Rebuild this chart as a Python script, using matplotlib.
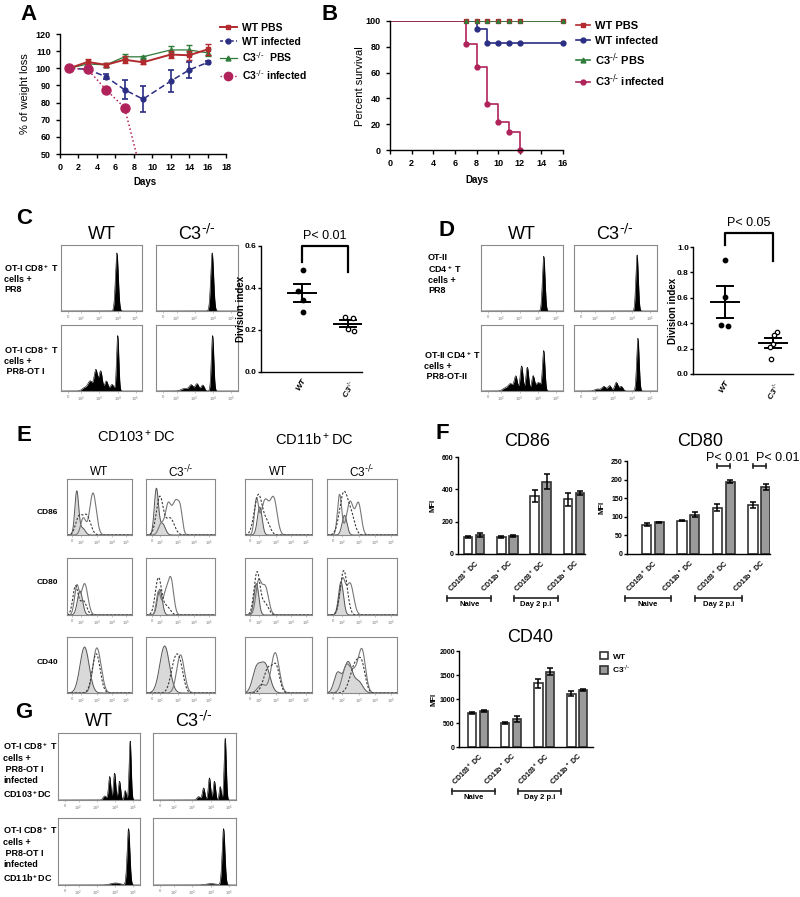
import numpy as np
import matplotlib
matplotlib.use("Agg")
import matplotlib.pyplot as plt
from matplotlib.patches import Patch
from matplotlib.lines import Line2D

plt.rcParams['font.family'] = ['Liberation Sans', 'DejaVu Sans']
plt.rcParams['mathtext.default'] = 'regular'

KO = r'C3$^{\text{-/-}}$'

# ---------------- data ----------------
# A: body weight
days_a = [1, 3, 5, 7, 9, 12, 14, 16]
wt_pbs_w = [100, 103.7, 102, 105, 103.5, 108, 107.6, 111]
wt_pbs_e = [0, 1.5, 1, 2, 1.2, 2.2, 2.5, 3]
ko_pbs_w = [100, 102.5, 102, 106.7, 106.7, 110.7, 110.7, 109]
ko_pbs_e = [0, 1, 1, 1.5, 0.5, 2.5, 3, 2]
wt_inf_w = [100, 99.4, 95, 87.5, 82, 92.5, 99, 103.4]
wt_inf_e = [0, 1, 1.5, 5.4, 7.6, 6.3, 4.5, 1]
ko_inf_days = [1, 3, 5, 7, 9]
ko_inf_w = [100, 99.4, 87.5, 77, 35]

# B: survival
surv_days = [0, 7, 8, 9, 10, 11, 12, 16]
wt_pbs_s = [100, 100, 100, 100, 100, 100, 100, 100]
ko_pbs_s = [100, 100, 100, 100, 100, 100, 100, 100]
wt_inf_s = [100, 100, 94, 83, 83, 83, 83, 83]
ko_surv_days = [0, 7, 8, 9, 10, 11, 12]
ko_inf_s = [100, 82, 64, 36, 22, 14, 0]

# C / D: division index
div_c_wt = [0.485, 0.385, 0.345, 0.285]
div_c_ko = [0.26, 0.255, 0.205, 0.195]
div_d_wt = [0.90, 0.61, 0.385, 0.375]
div_d_ko = [0.33, 0.31, 0.24, 0.21, 0.12]
jit_c_wt = [0.02, -0.08, 0.02, 0.02]
jit_c_ko = [-0.06, 0.1, 0.0, 0.12]
jit_d_wt = [0.0, 0.0, -0.08, 0.06]
jit_d_ko = [0.08, 0.02, 0.0, -0.06, -0.05]

# F: MFI
f_groups = ['CD103$^+$ DC', 'CD11b$^+$ DC', 'CD103$^+$ DC', 'CD11b$^+$ DC']
cd86_wt = [105, 105, 360, 338]
cd86_wt_e = [4, 5, 38, 38]
cd86_ko = [117, 112, 448, 380]
cd86_ko_e = [10, 4, 45, 12]
cd80_wt = [78, 90, 125, 132]
cd80_wt_e = [4, 2, 10, 8]
cd80_ko = [85, 106, 194, 179]
cd80_ko_e = [2, 7, 4, 8]
cd40_wt = [705, 495, 1325, 1110]
cd40_wt_e = [25, 20, 95, 50]
cd40_ko = [745, 585, 1570, 1185]
cd40_ko_e = [20, 65, 70, 20]

# histogram peaks (position, height, width)
c_wt_pr8 = [(0.69, 0.88, 0.018)]
c_ko_pr8 = [(0.685, 0.88, 0.018)]
c_wt_ot1 = [(0.70, 0.84, 0.014), (0.63, 0.10, 0.022), (0.56, 0.15, 0.02),
            (0.49, 0.30, 0.02), (0.43, 0.32, 0.021), (0.36, 0.15, 0.028), (0.29, 0.05, 0.03)]
c_ko_ot1 = [(0.69, 0.84, 0.015), (0.57, 0.09, 0.02), (0.50, 0.11, 0.022),
            (0.43, 0.09, 0.024), (0.35, 0.04, 0.04)]
d_wt_pr8 = [(0.765, 0.83, 0.016)]
d_ko_pr8 = [(0.76, 0.85, 0.015)]
d_wt_ot2 = [(0.765, 0.60, 0.015), (0.70, 0.13, 0.03), (0.635, 0.22, 0.017),
            (0.565, 0.36, 0.017), (0.495, 0.38, 0.017), (0.425, 0.22, 0.019),
            (0.36, 0.11, 0.03), (0.29, 0.04, 0.03)]
d_ko_ot2 = [(0.77, 0.80, 0.015), (0.57, 0.07, 0.02), (0.51, 0.13, 0.02),
            (0.43, 0.08, 0.02), (0.36, 0.07, 0.025), (0.28, 0.03, 0.03)]
g_wt_103 = [(0.88, 0.88, 0.013), (0.82, 0.14, 0.012), (0.75, 0.28, 0.014),
            (0.69, 0.40, 0.014), (0.63, 0.35, 0.014), (0.57, 0.06, 0.02)]
g_ko_103 = [(0.87, 0.92, 0.013), (0.81, 0.20, 0.012), (0.74, 0.28, 0.014),
            (0.68, 0.33, 0.014), (0.61, 0.18, 0.015), (0.55, 0.05, 0.02)]
g_wt_11b = [(0.86, 0.84, 0.017), (0.70, 0.03, 0.06)]
g_ko_11b = [(0.85, 0.84, 0.017), (0.70, 0.02, 0.06)]

# E: (shaded, dashed, solid) per marker row, per column
e_cd86 = [
    ([(0.15, 0.78, 0.03), (0.24, 0.12, 0.04)], [(0.18, 0.30, 0.05), (0.30, 0.35, 0.06)],
     [(0.25, 0.30, 0.04), (0.40, 0.75, 0.05)]),
    ([(0.15, 0.82, 0.03), (0.24, 0.20, 0.04)], [(0.20, 0.68, 0.05), (0.35, 0.30, 0.06)],
     [(0.22, 0.20, 0.04), (0.32, 0.52, 0.04), (0.43, 0.60, 0.05), (0.50, 0.30, 0.03)]),
    ([(0.22, 0.50, 0.035)], [(0.20, 0.72, 0.06), (0.33, 0.20, 0.05)],
     [(0.17, 0.60, 0.03), (0.30, 0.62, 0.06), (0.43, 0.62, 0.05)]),
    ([(0.25, 0.35, 0.035)], [(0.24, 0.75, 0.06), (0.35, 0.30, 0.05)],
     [(0.18, 0.72, 0.03), (0.33, 0.60, 0.05), (0.45, 0.55, 0.04)]),
]
e_cd80 = [
    ([(0.20, 0.42, 0.04)], [(0.13, 0.50, 0.04), (0.25, 0.25, 0.05)],
     [(0.15, 0.50, 0.035), (0.27, 0.55, 0.05)]),
    ([(0.20, 0.45, 0.035)], [(0.18, 0.65, 0.045), (0.30, 0.15, 0.05)],
     [(0.18, 0.40, 0.03), (0.28, 0.35, 0.04), (0.36, 0.62, 0.04)]),
    ([(0.17, 0.55, 0.035)], [(0.18, 0.75, 0.045), (0.30, 0.20, 0.05)],
     [(0.20, 0.55, 0.04), (0.30, 0.50, 0.05)]),
    ([(0.20, 0.58, 0.035)], [(0.24, 0.78, 0.05)],
     [(0.22, 0.60, 0.04), (0.33, 0.55, 0.05)]),
]
e_cd40 = [
    ([(0.27, 0.82, 0.07)], [(0.45, 0.70, 0.06)],
     [(0.45, 0.72, 0.055), (0.52, 0.20, 0.05)]),
    ([(0.27, 0.84, 0.07)], [(0.42, 0.55, 0.06), (0.50, 0.35, 0.05)],
     [(0.50, 0.68, 0.055)]),
    ([(0.17, 0.40, 0.06), (0.30, 0.50, 0.07)], [(0.35, 0.45, 0.07), (0.47, 0.40, 0.05)],
     [(0.45, 0.72, 0.06), (0.25, 0.15, 0.06)]),
    ([(0.15, 0.35, 0.05), (0.30, 0.55, 0.06), (0.45, 0.20, 0.06)],
     [(0.40, 0.50, 0.07), (0.50, 0.40, 0.05)],
     [(0.28, 0.50, 0.06), (0.40, 0.30, 0.05), (0.50, 0.75, 0.05)]),
]

RED = '#B22A2E'
NAVY = '#2B2E83'
GREEN = '#2E7B3A'
CRIM = '#B0235A'

W, H = 800, 897
fig = plt.figure(figsize=(8, 8.97), dpi=100)


def px_axes(x0, y0, x1, y1):
    return fig.add_axes([x0 / W, 1 - y1 / H, (x1 - x0) / W, (y1 - y0) / H])


def px_text(x, y, s, **kw):
    kw.setdefault('ha', 'center')
    kw.setdefault('va', 'center')
    fig.text(x / W, 1 - y / H, s, **kw)


def clean(ax, fs=6.5):
    for s in ['top', 'right']:
        ax.spines[s].set_visible(False)
    for s in ['left', 'bottom']:
        ax.spines[s].set_linewidth(1.0)
    ax.tick_params(labelsize=fs, width=1, length=3)
    for lab in ax.get_xticklabels() + ax.get_yticklabels():
        lab.set_fontweight('bold')


def curve(peaks, xs):
    y = np.zeros_like(xs)
    for c, h, s in peaks:
        y = y + h * np.exp(-0.5 * ((xs - c) / s) ** 2)
    return y


def hist_frame(ax, ticks):
    ax.set_xlim(0, 1)
    ax.set_ylim(0, 1)
    for s in ax.spines.values():
        s.set_color('#8a8a8a')
        s.set_linewidth(0.8)
    ax.set_yticks([])
    ax.set_xticks(ticks)
    ax.set_xticklabels(['0', '10$^2$', '10$^3$', '10$^4$', '10$^5$'],
                       fontsize=3, color='#777777')
    ax.tick_params(axis='x', length=1.5, width=0.4, color='#999999', pad=1.5)


XS = np.linspace(0, 1, 600)
TICKS_CD = [0.09, 0.25, 0.47, 0.70, 0.92]
TICKS_E = [0.08, 0.21, 0.46, 0.69, 0.91]


def black_hist(ax, peaks):
    y = curve(peaks, XS)
    ax.fill_between(XS, 0, y, color='black', lw=0)
    ax.plot(XS, y, color='black', lw=0.4)
    hist_frame(ax, TICKS_CD)


# ---------------- panel letters ----------------
for lx, ly, ch in [(28, 14, 'A'), (330, 14, 'B'), (24, 218, 'C'), (446, 230, 'D'),
                   (24, 435, 'E'), (442, 433, 'F'), (24, 712, 'G')]:
    px_text(lx, ly, ch, fontsize=16, fontweight='bold')

# ---------------- A ----------------
ax = px_axes(60, 34, 226, 154)
ax.errorbar(days_a, wt_pbs_w, yerr=wt_pbs_e, fmt='-s', color=RED, ms=3.5, lw=1.4,
            capsize=2.5, elinewidth=1, capthick=1, zorder=3)
ax.errorbar(days_a, ko_pbs_w, yerr=ko_pbs_e, fmt='-^', color=GREEN, ms=3.5, lw=0.9,
            capsize=2.5, elinewidth=1, capthick=1, zorder=2)
ax.errorbar(days_a, wt_inf_w, yerr=wt_inf_e, fmt='--o', color=NAVY, ms=3.5, lw=1.1,
            capsize=2.5, elinewidth=1.2, capthick=1.2, dashes=(4, 2), zorder=3)
ax.plot(ko_inf_days, ko_inf_w, ':', color=CRIM, lw=1.1, marker='o', ms=6.5,
        markevery=[0, 1, 2, 3], zorder=4)
ax.set_xlim(0, 18)
ax.set_ylim(50, 120)
ax.set_xticks(range(0, 19, 2))
ax.set_yticks(range(50, 121, 10))
clean(ax)
px_text(25, 94, '% of weight loss', rotation=90, fontsize=8)
px_text(145, 182, 'Days', fontsize=7, fontweight='bold')
hA = [Line2D([], [], color=RED, marker='s', ms=3.5, lw=1.4),
      Line2D([], [], color=NAVY, marker='o', ms=3.5, lw=1.1, ls='--', dashes=(2, 1.5)),
      Line2D([], [], color=GREEN, marker='^', ms=3.5, lw=0.9),
      Line2D([], [], color=CRIM, marker='o', ms=6, lw=1.0, ls=':')]
lab = ['WT PBS', 'WT infected', KO + '  PBS', KO + ' infected']
leg = ax.legend(hA, lab, loc='upper left', bbox_to_anchor=(220 / W, 1 - 23 / H),
                bbox_transform=fig.transFigure, frameon=False, fontsize=7.5,
                labelspacing=0.35, handlelength=1.6, handletextpad=0.5, borderpad=0,
                borderaxespad=0)
for t in leg.get_texts():
    t.set_fontweight('bold')

# ---------------- B ----------------
ax = px_axes(390, 21, 563, 150)
ax.step(surv_days, wt_pbs_s, where='post', color=RED, lw=1.2)
ax.step(surv_days, wt_inf_s, where='post', color=NAVY, lw=1.2)
ax.step(surv_days, ko_pbs_s, where='post', color=GREEN, lw=1.2)
ax.step(ko_surv_days, ko_inf_s, where='post', color=CRIM, lw=1.2)
ax.plot(surv_days[1:], wt_pbs_s[1:], 's', color=RED, ms=3.5, clip_on=False)
ax.plot(surv_days[2:], wt_inf_s[2:], 'o', color=NAVY, ms=3.5, clip_on=False)
ax.plot(surv_days[1:], ko_pbs_s[1:], '^', color=GREEN, ms=2.5, clip_on=False)
ax.plot(ko_surv_days[1:], ko_inf_s[1:], 'o', color=CRIM, ms=3.5, clip_on=False)
ax.set_xlim(0, 16)
ax.set_ylim(0, 100)
ax.set_xticks(range(0, 17, 2))
ax.set_yticks(range(0, 101, 20))
clean(ax)
px_text(360, 86, 'Percent survival', rotation=90, fontsize=8)
px_text(477, 180, 'Days', fontsize=7, fontweight='bold')
hB = [Line2D([], [], color=RED, marker='s', ms=3.5, lw=1.2),
      Line2D([], [], color=NAVY, marker='o', ms=3.5, lw=1.2),
      Line2D([], [], color=GREEN, marker='^', ms=3.5, lw=1.2),
      Line2D([], [], color=CRIM, marker='o', ms=3.5, lw=1.2)]
leg = ax.legend(hB, ['WT PBS', 'WT infected', KO + ' PBS', KO + ' infected'],
                loc='upper left', bbox_to_anchor=(576 / W, 1 - 21 / H),
                bbox_transform=fig.transFigure, frameon=False, fontsize=8,
                labelspacing=0.45, handlelength=1.3, handletextpad=0.4, borderpad=0,
                borderaxespad=0)
for t in leg.get_texts():
    t.set_fontweight('bold')


# ---------------- C / D ----------------
def division(rect, wt, ko, jw, jk, ylim, yticks, xlim, ptxt, br):
    ax = px_axes(*rect)
    ax.scatter(np.zeros(len(wt)) + np.array(jw), wt, s=10, color='black', zorder=3)
    ax.scatter(np.ones(len(ko)) + np.array(jk), ko, s=10, facecolor='white',
               edgecolor='black', lw=0.9, zorder=3)
    for x, v in [(0, wt), (1, ko)]:
        m = np.mean(v)
        se = np.std(v, ddof=1) / np.sqrt(len(v))
        ax.plot([x - 0.3, x + 0.3], [m, m], color='black', lw=1.4)
        ax.plot([x, x], [m - se, m + se], color='black', lw=1.4)
        ax.plot([x - 0.17, x + 0.17], [m - se, m - se], color='black', lw=1.4)
        ax.plot([x - 0.17, x + 0.17], [m + se, m + se], color='black', lw=1.4)
    ax.set_xlim(*xlim)
    ax.set_ylim(*ylim)
    ax.set_yticks(yticks)
    ax.set_yticklabels(['%.1f' % v for v in yticks])
    ax.set_xticks([0, 1])
    ax.set_xticklabels(['WT', KO], rotation=60, ha='right',
                       rotation_mode='anchor', fontstyle='italic')
    clean(ax, fs=6)
    ax.tick_params(axis='y', length=2, pad=1)
    ax.tick_params(axis='x', length=0, pad=4)
    top, l_end, r_end = br
    ax.plot([0, 0, 1, 1], [l_end, top, top, r_end], color='black', lw=1.6,
            clip_on=False)
    ax.text(0.5, top + (ylim[1] - ylim[0]) * 0.035, ptxt, ha='center', va='bottom',
            fontsize=9)
    px_text(rect[0] - 20, (rect[1] + rect[3]) / 2, 'Division index', rotation=90,
            fontsize=7, fontweight='bold')
    return ax


division((261, 246, 362, 372), div_c_wt, div_c_ko, jit_c_wt, jit_c_ko, (0, 0.6),
         [0.0, 0.2, 0.4, 0.6], (-0.89, 1.3), 'P< 0.01', (0.6, 0.524, 0.476))
division((693, 247, 793, 374), div_d_wt, div_d_ko, jit_d_wt, jit_d_ko, (0, 1.0),
         [0.0, 0.2, 0.4, 0.6, 0.8, 1.0], (-0.67, 1.42), 'P< 0.05', (1.11, 1.016, 0.89))

c_cols = [(61, 142), (156, 238)]
d_cols = [(481, 563), (574, 657)]
cd_rows = [(245, 311), (325, 391)]
for (x0, x1), pk1, pk2 in [(c_cols[0], c_wt_pr8, c_wt_ot1), (c_cols[1], c_ko_pr8, c_ko_ot1),
                           (d_cols[0], d_wt_pr8, d_wt_ot2), (d_cols[1], d_ko_pr8, d_ko_ot2)]:
    black_hist(px_axes(x0, cd_rows[0][0], x1, cd_rows[0][1]), pk1)
    black_hist(px_axes(x0, cd_rows[1][0], x1, cd_rows[1][1]), pk2)

px_text(102, 234, 'WT', fontsize=13)
px_text(197, 234, KO, fontsize=13)
px_text(522, 234, 'WT', fontsize=13)
px_text(615, 234, KO, fontsize=13)

lk = dict(ha='left', va='center', fontsize=6.5, fontweight='bold', linespacing=1.15)
px_text(4, 278, 'OT-I CD8$^+$ T\ncells +\nPR8', **lk)
px_text(4, 360, 'OT-I CD8$^+$ T\ncells +\n PR8-OT I', **lk)
px_text(428, 274, 'OT-II\nCD4$^+$ T\ncells +\nPR8', **lk)
px_text(424, 365, 'OT-II CD4$^+$ T\ncells +\n PR8-OT-II', **lk)

# ---------------- E ----------------
e_cols = [(67, 132), (146, 215), (245, 312), (327, 397)]
e_rows = [(479, 535), (558, 615), (637, 693)]
for (y0, y1), row in zip(e_rows, [e_cd86, e_cd80, e_cd40]):
    for (x0, x1), (sh, da, so) in zip(e_cols, row):
        ax = px_axes(x0, y0, x1, y1)
        ys = curve(sh, XS)
        ax.fill_between(XS, 0, ys, color='#d9d9d9', lw=0)
        ax.plot(XS, ys, color='#555555', lw=0.7)
        ax.plot(XS, curve(so, XS), color='#777777', lw=0.8)
        ax.plot(XS, curve(da, XS), color='#3a3a3a', lw=0.8, dashes=(2, 1.5))
        hist_frame(ax, TICKS_E)

px_text(136, 437, 'CD103$^+$DC', fontsize=10.5)
px_text(314, 440, 'CD11b$^+$DC', fontsize=10.5)
for (x0, x1), t in zip(e_cols, ['WT', KO, 'WT', KO]):
    px_text((x0 + x1) / 2, 472, t, fontsize=8.5)
for y, t in [(513, 'CD86'), (583, 'CD80'), (663, 'CD40')]:
    px_text(47, y, t, fontsize=6, fontweight='bold')

# ---------------- G ----------------
g_cols = [(58, 140), (153, 236)]
g_rows = [(733, 800), (818, 885)]
black_hist(px_axes(g_cols[0][0], g_rows[0][0], g_cols[0][1], g_rows[0][1]), g_wt_103)
black_hist(px_axes(g_cols[1][0], g_rows[0][0], g_cols[1][1], g_rows[0][1]), g_ko_103)
black_hist(px_axes(g_cols[0][0], g_rows[1][0], g_cols[0][1], g_rows[1][1]), g_wt_11b)
black_hist(px_axes(g_cols[1][0], g_rows[1][0], g_cols[1][1], g_rows[1][1]), g_ko_11b)
px_text(99, 721, 'WT', fontsize=13)
px_text(194, 721, KO, fontsize=13)
lg = dict(lk, linespacing=1.3)
px_text(3, 770, 'OT-I CD8$^+$ T\ncells +\n PR8-OT I\ninfected\nCD103$^+$DC', **lg)
px_text(3, 854, 'OT-I CD8$^+$ T\ncells +\n PR8-OT I\ninfected\nCD11b$^+$DC', **lg)


# ---------------- F ----------------
def bars(rect, wt, wte, ko, koe, ylim, yticks, xlim, title, tx, ty):
    ax = px_axes(*rect)
    x = np.arange(len(wt))
    ek = dict(ecolor='black', elinewidth=1.1, capsize=2.5, capthick=1.1)
    ax.bar(x - 0.18, wt, 0.26, yerr=wte, color='white', edgecolor='#333333', lw=1.2,
           error_kw=ek)
    ax.bar(x + 0.18, ko, 0.26, yerr=koe, color='#9a9a9a', edgecolor='#333333', lw=1.2,
           error_kw=ek)
    ax.set_xlim(*xlim)
    ax.set_ylim(*ylim)
    ax.set_yticks(yticks)
    ax.set_xticks(x)
    ax.set_xticklabels(f_groups, rotation=45, ha='right', rotation_mode='anchor')
    clean(ax, fs=5)
    ax.tick_params(axis='x', length=0, labelsize=5, pad=3)
    ax.tick_params(axis='y', length=2, pad=1)
    hpx = rect[3] - rect[1]
    tr = ax.get_xaxis_transform()
    yb = -44 / hpx
    cap = 2.5 / hpx
    for g0, txt in [(0, 'Naive'), (2, 'Day 2 p.i')]:
        xa, xb = g0 - 0.8, g0 + 0.52
        ax.plot([xa, xb], [yb, yb], color='#222222', lw=1.2, transform=tr, clip_on=False)
        ax.plot([xa, xa], [yb - cap, yb + cap], color='#222222', lw=1.2, transform=tr,
                clip_on=False)
        ax.plot([xb, xb], [yb - cap, yb + cap], color='#222222', lw=1.2, transform=tr,
                clip_on=False)
        ax.text((xa + xb) / 2, yb - 3 / hpx, txt, transform=tr, ha='center', va='top',
                fontsize=5.5, fontweight='bold')
    px_text(rect[0] - 25, (rect[1] + rect[3]) / 2, 'MFI', rotation=90, fontsize=5.5,
            fontweight='bold')
    px_text(tx, ty, title, fontsize=13)
    return ax


bars((458, 457, 585, 554), cd86_wt, cd86_wt_e, cd86_ko, cd86_ko_e, (0, 600),
     [0, 200, 400, 600], (-0.48, 3.33), 'CD86', 527, 442)
ax80 = bars((627, 461, 770, 554), cd80_wt, cd80_wt_e, cd80_ko, cd80_ko_e, (0, 250),
            [0, 50, 100, 150, 200, 250], (-0.73, 3.3), 'CD80', 700, 442)
ax40 = bars((459, 651, 593, 747), cd40_wt, cd40_wt_e, cd40_ko, cd40_ko_e, (0, 2000),
            [0, 500, 1000, 1500, 2000], (-0.58, 3.48), 'CD40', 530, 637)

for g, tx in [(2, 2.11), (3, 3.52)]:
    ax80.plot([g - 0.18, g + 0.18], [236, 236], color='#222222', lw=1.2, clip_on=False)
    ax80.plot([g - 0.18, g - 0.18], [231, 241], color='#222222', lw=1.2, clip_on=False)
    ax80.plot([g + 0.18, g + 0.18], [231, 241], color='#222222', lw=1.2, clip_on=False)
    ax80.text(tx, 243, 'P< 0.01', ha='center', va='bottom', fontsize=9)

leg = ax40.legend([Patch(facecolor='white', edgecolor='#333333', lw=1.2),
                   Patch(facecolor='#9a9a9a', edgecolor='#333333', lw=1.2)],
                  ['WT', KO], loc='upper left',
                  bbox_to_anchor=(600 / W, 1 - 652 / H), bbox_transform=fig.transFigure,
                  frameon=False, fontsize=6, handlelength=1.0, handleheight=1.0,
                  handletextpad=0.5, labelspacing=0.3, borderpad=0, borderaxespad=0)
for t in leg.get_texts():
    t.set_fontweight('bold')

fig.savefig('out.png', dpi=100)
